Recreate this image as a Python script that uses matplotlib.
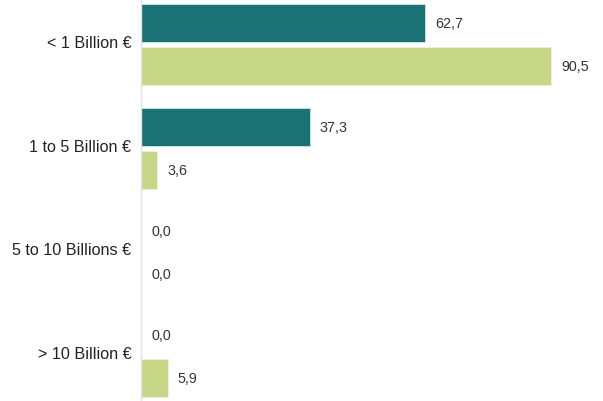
import matplotlib
matplotlib.use("Agg")
import matplotlib.pyplot as plt
import matplotlib.transforms as mtransforms
import numpy as np

categories = ["< 1 Billion €", "1 to 5 Billion €", "5 to 10 Billions €", "> 10 Billion €"]
series_a = [62.7, 37.3, 0.0, 0.0]
series_b = [90.5, 3.6, 0.0, 5.9]

teal = "#1a7274"
green = "#c6d887"

plt.rcParams["font.family"] = ["Liberation Sans", "DejaVu Sans"]

fig = plt.figure(figsize=(6.03, 4.02), dpi=100)
ax = fig.add_axes([141 / 603, 0, 462 / 603, 1])

y = np.arange(len(categories))
h = 0.37
off = 0.207
bars_a = ax.barh(y - off, series_a, height=h, color=teal, edgecolor="#d8e6e6", linewidth=0.6)
bars_b = ax.barh(y + off, series_b, height=h, color=green, edgecolor="#eef3dc", linewidth=0.6)

for bars in (bars_a, bars_b):
    for b in bars:
        w = b.get_width()
        ax.annotate(f"{w:.1f}".replace(".", ","),
                    (w, b.get_y() + b.get_height() / 2),
                    xytext=(10, 0), textcoords="offset pixels",
                    va="center", ha="left", fontsize=10.3, color="#333333")

ax.set_xlim(0, 102)
ax.set_ylim(3.43, -0.44)
ax.set_yticks(y)
ax.set_yticklabels(categories, fontsize=11.6, color="#222222")
ax.tick_params(axis="y", length=0, pad=7)
# labels sit a little above the group centre in the original
shift = mtransforms.ScaledTranslation(0, 4 / 100, fig.dpi_scale_trans)
for lab in ax.get_yticklabels():
    lab.set_transform(lab.get_transform() + shift)
ax.set_xticks([])
for s in ("top", "right", "bottom"):
    ax.spines[s].set_visible(False)
ax.spines["left"].set_color("#e3e3e3")
ax.spines["left"].set_linewidth(1)

fig.savefig("out.png", dpi=100)
